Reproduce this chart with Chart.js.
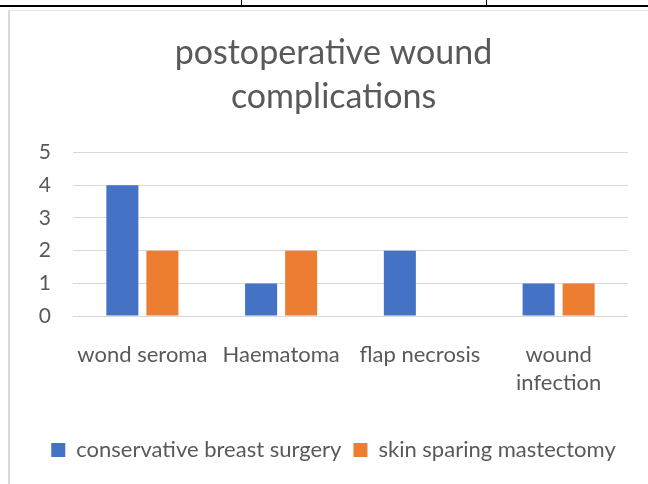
<!DOCTYPE html>
<html><head><meta charset="utf-8">
<script src="https://cdn.jsdelivr.net/npm/chart.js@4.4.1/dist/chart.umd.min.js"></script>
<style>
html,body{margin:0;padding:0;background:#fff;width:648px;height:484px;overflow:hidden;position:relative}
#topline{position:absolute;left:0;top:5px;width:648px;height:2px;background:#000}
.vt{position:absolute;top:0;width:1px;height:7px;background:#000}
#frame{position:absolute;left:8px;top:10px;width:660px;height:490px;border-left:2px solid #d9d9d9;border-top:1px solid #e6e6e6}
#wrap{position:absolute;left:11px;top:12px;width:637px;height:472px}
</style></head><body>
<div id="topline"></div>
<div class="vt" style="left:241px"></div>
<div class="vt" style="left:486px"></div>
<div id="frame"></div>
<div id="wrap"><canvas id="c"></canvas></div>
<script>
const titleLines = ["postoperative wound", "complications"];
const categories = ["wond seroma", "Haematoma", "flap necrosis", ["wound", "infection"]];
const seriesNames = ["conservative breast surgery", "skin sparing mastectomy"];
const conservative = [4, 1, 2, 1];
const skinSparing = [2, 2, null, 1];
const yTicks = [0, 1, 2, 3, 4, 5];

const FONT = "Lato, 'Open Sans', sans-serif";
const TXT = "#595959";
new Chart(document.getElementById('c'), {
  type: 'bar',
  data: {
    labels: categories,
    datasets: [
      {label: seriesNames[0], data: conservative, backgroundColor: '#4472C4', categoryPercentage: 0.577, barPercentage: 0.8},
      {label: seriesNames[1], data: skinSparing, backgroundColor: '#ED7D31', categoryPercentage: 0.577, barPercentage: 0.8}
    ]
  },
  options: {
    responsive: true, maintainAspectRatio: false, animation: false,
    layout: {padding: {left: 28, right: 20, top: 0, bottom: 13}},
    plugins: {
      title: {display: true, text: titleLines, color: TXT, font: {family: FONT, size: 34, weight: 'normal', lineHeight: 1.3}, padding: {top: 19, bottom: 33}},
      legend: {position: 'bottom', labels: {color: TXT, font: {family: FONT, size: 22}, boxWidth: 14, boxHeight: 14, padding: 12}},
      tooltip: {enabled: false}
    },
    scales: {
      x: {grid: {display: false}, border: {display: false},
          afterFit: s => { s.height += 13; },
          ticks: {color: TXT, font: {family: FONT, size: 22, lineHeight: 1.27}, padding: 17, maxRotation: 0, autoSkip: false}},
      y: {min: 0, max: 5, border: {display: false},
          grid: {color: '#d9d9d9', lineWidth: 1, drawTicks: false},
          afterBuildTicks: s => { s.ticks = yTicks.map(v => ({value: v})); },
          afterFit: s => { s.width = 34; },
          ticks: {color: TXT, font: {family: FONT, size: 21}, padding: 22}}
    }
  }
});
</script>
</body></html>
